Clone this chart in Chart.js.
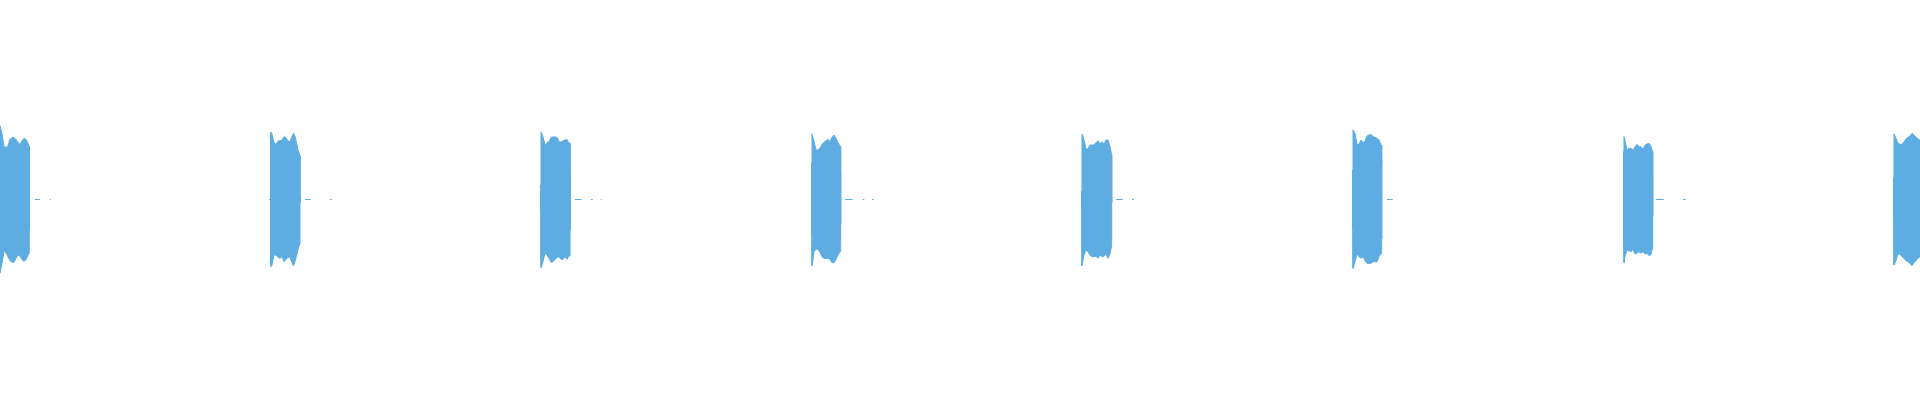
<!DOCTYPE html>
<html>
<head>
<meta charset="utf-8">
<title>Waveform</title>
<script src="https://cdn.jsdelivr.net/npm/chart.js@4.4.1/dist/chart.umd.min.js"></script>
<style>
    html, body { margin: 0; padding: 0; background: #ffffff; }
    #wrap { width: 1920px; height: 400px; position: relative; }
</style>
</head>
<body>
<div id="wrap"><canvas id="waveChart"></canvas></div>
<script>
// Peak data per burst: [time (ms), max amplitude, min amplitude]
const burst1 = [[0, .37, -.369], [2, .33, -.319], [4, .264, -.26], [6, .26, -.266], [8, .27, -.286], [10, .30, -.306], [12, .31, -.314], [14, .31, -.314], [16, .30, -.294], [18, .284, -.278], [20, .276, -.283], [22, .294, -.30], [24, .306, -.31], [26, .30, -.30], [28, .28, -.278], [29, .267, -.269], [29.3, .146, -.144], [30, .146, -.144]];
const burst2 = [[270, .31, -.31], [271, .3375, -.336], [272, .328, -.327], [274, .284, -.278], [276, .276, -.278], [278, .292, -.289], [280, .294, -.294], [282, .2975, -.286], [284, .314, -.311], [286, .309, -.30], [288, .292, -.289], [290, .289, -.289], [292, .314, -.316], [293.3, .331, -.331], [295, .317, -.311], [296.7, .281, -.278], [298, .2475, -.249], [300, .2175, -.219], [300, .013, -.013], [301, .013, -.013]];
const burst3 = [[540, .07, -.07], [541, .07, -.07], [541, .3375, -.34], [543, .314, -.311], [545, .2725, -.269], [547, .284, -.278], [549, .289, -.294], [551, .311, -.314], [553, .3125, -.311], [555, .3125, -.30], [557, .31, -.29], [559, .289, -.286], [561, .2875, -.299], [563, .294, -.299], [565, .2975, -.286], [567, .30, -.299], [569, .281, -.281], [570, .281, -.281], [570, .151, -.149], [571, .151, -.149]];
const burst4 = [[811, .18, -.18], [812, .18, -.18], [812, .3275, -.331], [814, .2925, -.261], [816, .2475, -.2475], [818, .2475, -.25], [820, .256, -.265], [822, .276, -.286], [824, .286, -.294], [826, .294, -.294], [828, .301, -.294], [830, .289, -.299], [832, .311, -.316], [834, .3225, -.316], [836, .306, -.30], [838, .284, -.278], [840, .2675, -.261], [840.7, .2675, -.261], [840.7, .1175, -.116], [841.7, .1175, -.116]];
const burst5 = [[1081, .04, -.04], [1082, .04, -.04], [1082, .3275, -.331], [1084, .2975, -.278], [1086, .2525, -.2525], [1088, .2525, -.261], [1090, .2725, -.278], [1092, .2725, -.286], [1094, .2725, -.286], [1096, .284, -.283], [1098, .294, -.294], [1100, .2775, -.278], [1102, .289, -.286], [1104, .2775, -.283], [1106, .2975, -.274], [1108, .2975, -.294], [1110, .264, -.272], [1111.7, .2225, -.2275], [1111.7, .01, -.01], [1112.7, .01, -.01]];
const burst6 = [[1352, .145, -.145], [1353, .145, -.145], [1353, .3475, -.344], [1355, .331, -.311], [1357, .276, -.272], [1359, .276, -.286], [1361, .2975, -.294], [1363, .284, -.286], [1365, .2925, -.306], [1367, .3175, -.319], [1369, .3225, -.319], [1371, .326, -.319], [1373, .314, -.311], [1375, .311, -.311], [1377, .306, -.311], [1379, .2975, -.286], [1381, .2725, -.269], [1381.7, .2725, -.269], [1381.7, .19, -.19], [1382.7, .19, -.19]];
const burst7 = [[1623, .239, -.236], [1624, .239, -.236], [1624, .314, -.316], [1625, .294, -.286], [1627, .2475, -.2525], [1629, .256, -.256], [1631, .256, -.261], [1633, .2475, -.25], [1635, .264, -.2725], [1637, .276, -.269], [1639, .264, -.261], [1641, .264, -.269], [1643, .251, -.261], [1645, .2725, -.2725], [1647, .2775, -.269], [1649, .281, -.281], [1651, .264, -.274], [1652.7, .239, -.239], [1652.7, .0775, -.08], [1653.7, .0775, -.08]];
const burst8 = [[1893, .11, -.11], [1894, .11, -.11], [1894, .3275, -.3275], [1896, .306, -.306], [1898, .281, -.273], [1900, .276, -.272], [1902, .276, -.286], [1904, .289, -.294], [1906, .3025, -.306], [1908, .311, -.311], [1910, .3175, -.319], [1912, .331, -.331], [1914, .3225, -.316], [1916, .311, -.306], [1918, .3025, -.294], [1920, .2975, -.286]];

// near-silent stretches after each burst: [from, to] in ms
const residue = [[35, 40], [50, 51], [269, 270], [305, 310.7], [330, 331.7], [575, 581.7], [591, 592.7], [600.7, 601.7], [845, 852.7], [862.7, 864.3], [872, 873.7], [1116, 1122.7], [1132, 1133.7], [1387, 1392.7], [1656, 1663.7], [1683, 1685.7]];

const WAVE_COLOR = '#5DADE2';

function buildEnvelope(bursts, idx) {
    const points = [];
    bursts.forEach(burst => {
        burst.forEach(p => points.push({ x: p[0], y: p[idx] }));
        // break the line between bursts
        points.push({ x: burst[burst.length - 1][0] + 0.5, y: null });
    });
    return points;
}

function buildResidue(segments) {
    const points = [];
    segments.forEach(([from, to]) => {
        points.push({ x: from, y: 0 }, { x: to, y: 0 }, { x: to + 0.1, y: null });
    });
    return points;
}

const bursts = [burst1, burst2, burst3, burst4, burst5, burst6, burst7, burst8];

new Chart(document.getElementById('waveChart').getContext('2d'), {
    type: 'line',
    data: {
        datasets: [{
            label: 'max',
            data: buildEnvelope(bursts, 1),
            borderColor: WAVE_COLOR,
            backgroundColor: WAVE_COLOR,
            borderWidth: 1,
            fill: '+1'
        }, {
            label: 'min',
            data: buildEnvelope(bursts, 2),
            borderColor: WAVE_COLOR,
            backgroundColor: WAVE_COLOR,
            borderWidth: 1,
            fill: false
        }, {
            label: 'residue',
            data: buildResidue(residue),
            borderColor: WAVE_COLOR,
            borderWidth: 1,
            fill: false
        }]
    },
    options: {
        responsive: true,
        maintainAspectRatio: false,
        devicePixelRatio: 1,
        animation: false,
        spanGaps: false,
        layout: { padding: 0 },
        elements: {
            point: { radius: 0 },
            line: { tension: 0 }
        },
        scales: {
            // zero sits on the middle of pixel row 199
            x: { type: 'linear', min: 0, max: 1920, display: false },
            y: { min: -1.0025, max: 0.9975, display: false }
        },
        plugins: {
            legend: { display: false },
            tooltip: { enabled: false }
        }
    }
});
</script>
</body>
</html>
